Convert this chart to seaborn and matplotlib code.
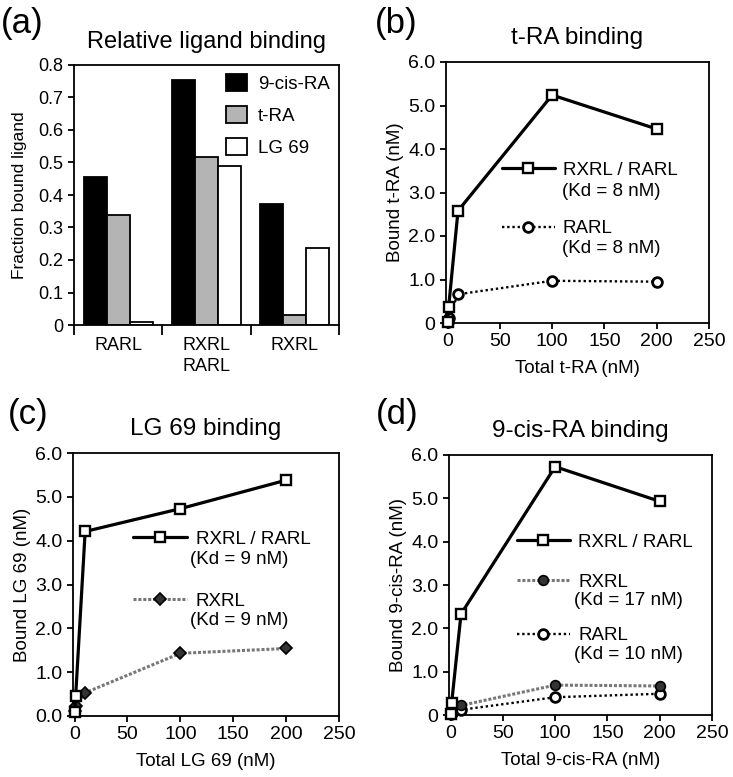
import matplotlib
matplotlib.use("Agg")
import matplotlib.pyplot as plt
from matplotlib.legend import Legend
import pandas as pd
import seaborn as sns

# ---- data ----
groups = ["RARL", "RXRL\nRARL", "RXRL"]
ligands = ["9-cis-RA", "t-RA", "LG 69"]
frac_9cis = [0.455, 0.755, 0.372]
frac_tra = [0.338, 0.518, 0.031]
frac_lg69 = [0.008, 0.488, 0.238]

conc = [0.1, 1, 10, 100, 200]
tra_rxrl_rarl = [0.02, 0.36, 2.58, 5.24, 4.46]
tra_rarl = [0.03, 0.12, 0.66, 0.97, 0.95]
lg_rxrl_rarl = [0.10, 0.45, 4.21, 4.73, 5.38]
lg_rxrl = [0.12, 0.22, 0.53, 1.43, 1.54]
cis_rxrl_rarl = [0.02, 0.27, 2.33, 5.73, 4.93]
cis_rxrl = [0.05, 0.20, 0.22, 0.69, 0.67]
cis_rarl = [0.02, 0.05, 0.12, 0.41, 0.49]

xticks = [0, 50, 100, 150, 200, 250]
yticks = [0, 1, 2, 3, 4, 5, 6]

sns.set_style("ticks")
plt.rcParams["font.family"] = ["Liberation Sans", "DejaVu Sans"]
plt.rcParams.update({
    "axes.linewidth": 1.3,
    "xtick.major.width": 1.3,
    "ytick.major.width": 1.3,
    "xtick.minor.width": 1.3,
    "xtick.major.size": 4,
    "ytick.major.size": 4,
    "xtick.color": "black",
    "ytick.color": "black",
    "axes.edgecolor": "black",
    "text.color": "black",
    "axes.labelcolor": "black",
})

fig = plt.figure(figsize=(7.33, 7.77), dpi=100)
W, H = 733, 777


def add_axes(left, top, right, bottom):
    return fig.add_axes([left / W, 1 - bottom / H, (right - left) / W, (bottom - top) / H])


ax_a = add_axes(74, 65, 339, 325)
ax_b = add_axes(446, 62, 709, 323)
ax_c = add_axes(73, 453, 339, 716)
ax_d = add_axes(449, 455, 712, 715)

# ---- (a) bar chart ----
bars = pd.DataFrame({
    "group": groups * 3,
    "ligand": [ligands[0]] * 3 + [ligands[1]] * 3 + [ligands[2]] * 3,
    "fraction": frac_9cis + frac_tra + frac_lg69,
})
palette = {"9-cis-RA": "black", "t-RA": "#b4b4b4", "LG 69": "white"}
sns.barplot(data=bars, x="group", y="fraction", hue="ligand", palette=palette,
            width=0.78, edgecolor="black", linewidth=1.3, saturation=1, ax=ax_a)
ax_a.set_xlim(-0.5, 2.5)
ax_a.set_ylim(0, 0.8)
ax_a.set_yticks([0, 0.1, 0.2, 0.3, 0.4, 0.5, 0.6, 0.7, 0.8])
ax_a.set_yticklabels(["0", "0.1", "0.2", "0.3", "0.4", "0.5", "0.6", "0.7", "0.8"], fontsize=13)
ax_a.set_xticks([0, 1, 2])
ax_a.set_xticklabels(groups, fontsize=13, linespacing=1.25)
ax_a.tick_params(axis="x", which="major", length=0, pad=9)
ax_a.set_xticks([-0.5, 0.5, 1.5, 2.5], minor=True)
ax_a.tick_params(axis="x", which="minor", length=7, direction="out")
ax_a.set_xlabel("")
ax_a.set_ylabel("Fraction bound ligand", fontsize=12.5, labelpad=8)
ax_a.set_title("Relative ligand binding", fontsize=17, pad=12)
h, l = ax_a.get_legend_handles_labels()
ax_a.legend(h, l, loc="upper left", bbox_to_anchor=(0.575, 0.965), frameon=False,
            borderpad=0, borderaxespad=0, fontsize=13.5, handlelength=1.1,
            handleheight=1.0, labelspacing=0.7, handletextpad=0.6)

# ---- line panels ----
solid = dict(color="black", lw=2.3, marker="s", markersize=7.5, markerfacecolor="white",
             markeredgecolor="black", markeredgewidth=1.7, clip_on=False, zorder=5)
dotted = dict(color="black", lw=1.7, linestyle=(0, (1, 1.2)), marker="o", markersize=7,
              markerfacecolor="white", markeredgecolor="black", markeredgewidth=2,
              clip_on=False, zorder=4)
grey = dict(color="#777777", lw=2.2, linestyle=(0, (1, 0.6)), marker="o", markersize=7,
            markerfacecolor="#333333", markeredgecolor="black", markeredgewidth=1.2,
            clip_on=False, zorder=4)


def style_binding(ax, title, xlabel, ylabel, zero_label):
    ax.set_xlim(-1.5, 250)
    ax.set_ylim(0, 6)
    ax.set_xticks(xticks)
    ax.set_xticklabels([str(v) for v in xticks], fontsize=14)
    ax.set_yticks(yticks)
    ax.set_yticklabels([zero_label] + [f"{v:.1f}" for v in yticks[1:]], fontsize=14)
    ax.set_xlabel(xlabel, fontsize=13.5, labelpad=7)
    ax.set_ylabel(ylabel, fontsize=13.5, labelpad=3)
    ax.set_title(title, fontsize=17.5, pad=13)
    if ax.get_legend() is not None:
        ax.get_legend().remove()


def legend_row(ax, handle, label, x, y, hl):
    leg = Legend(ax, [handle], [label], loc="center left", bbox_to_anchor=(x, y),
                 frameon=False, borderpad=0, borderaxespad=0, handlelength=hl,
                 handletextpad=0.45, fontsize=13.5, numpoints=1)
    ax.add_artist(leg)


def kd_text(ax, text, x, y):
    ax.text(x, y, text, transform=ax.transAxes, fontsize=13.5, va="center", ha="left")


# (b) t-RA binding
sns.lineplot(x=conc, y=tra_rarl, ax=ax_b, label="RARL", **dotted)
sns.lineplot(x=conc, y=tra_rxrl_rarl, ax=ax_b, label="RXRL / RARL", **solid)
style_binding(ax_b, "t-RA binding", "Total t-RA (nM)", "Bound t-RA (nM)", "0")
hb = {ln.get_label(): ln for ln in ax_b.get_lines()}
legend_row(ax_b, hb["RXRL / RARL"], "RXRL / RARL", 0.213, 0.585, 2.8)
kd_text(ax_b, "(Kd = 8 nM)", 0.44, 0.505)
legend_row(ax_b, hb["RARL"], "RARL", 0.213, 0.362, 2.8)
kd_text(ax_b, "(Kd = 8 nM)", 0.44, 0.285)

# (c) LG 69 binding
sns.lineplot(x=conc, y=lg_rxrl, ax=ax_c, label="RXRL", **dict(grey, marker="D", markersize=6.5))
sns.lineplot(x=conc, y=lg_rxrl_rarl, ax=ax_c, label="RXRL / RARL", **solid)
style_binding(ax_c, "LG 69 binding", "Total LG 69 (nM)", "Bound LG 69 (nM)", "0.0")
hc = {ln.get_label(): ln for ln in ax_c.get_lines()}
legend_row(ax_c, hc["RXRL / RARL"], "RXRL / RARL", 0.226, 0.672, 2.9)
kd_text(ax_c, "(Kd = 9 nM)", 0.44, 0.595)
legend_row(ax_c, hc["RXRL"], "RXRL", 0.226, 0.437, 2.9)
kd_text(ax_c, "(Kd = 9 nM)", 0.44, 0.362)

# (d) 9-cis-RA binding
sns.lineplot(x=conc, y=cis_rarl, ax=ax_d, label="RARL", **dotted)
sns.lineplot(x=conc, y=cis_rxrl, ax=ax_d, label="RXRL", **grey)
sns.lineplot(x=conc, y=cis_rxrl_rarl, ax=ax_d, label="RXRL / RARL", **solid)
style_binding(ax_d, "9-cis-RA binding", "Total 9-cis-RA (nM)", "Bound 9-cis-RA (nM)", "0")
hd = {ln.get_label(): ln for ln in ax_d.get_lines()}
legend_row(ax_d, hd["RXRL / RARL"], "RXRL / RARL", 0.259, 0.665, 2.8)
legend_row(ax_d, hd["RXRL"], "RXRL", 0.259, 0.51, 2.8)
kd_text(ax_d, "(Kd = 17 nM)", 0.475, 0.44)
legend_row(ax_d, hd["RARL"], "RARL", 0.259, 0.305, 2.8)
kd_text(ax_d, "(Kd = 10 nM)", 0.475, 0.232)

# panel letters
for txt, x, y in [("(a)", 1, 33), ("(b)", 375, 33), ("(c)", 8, 424), ("(d)", 376, 424)]:
    fig.text(x / W, 1 - y / H, txt, fontsize=25, va="baseline", ha="left")

fig.savefig("out.png", dpi=100)
